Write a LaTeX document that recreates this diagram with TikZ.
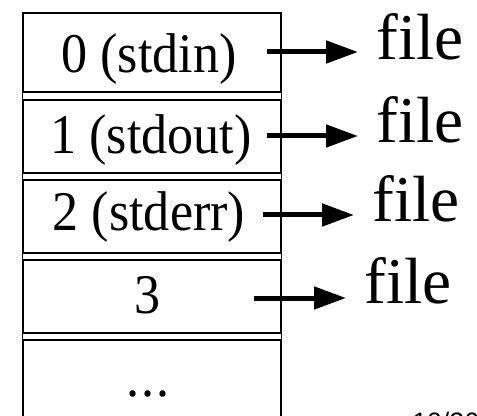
\documentclass[tikz,border=0pt]{standalone}
\usepackage{fontspec}
\setmainfont{Liberation Serif}
\newfontfamily\fdfont[FakeStretch=0.93]{Liberation Serif}
\newfontfamily\pagefont{Liberation Sans}
\usetikzlibrary{arrows.meta,positioning}

\begin{document}
\begin{tikzpicture}[
      x=0.75pt, y=-0.75pt,
      cell/.style={draw=black, line width=1.3pt, anchor=north west,
        minimum width=193pt, inner sep=0pt},
      fdlabel/.style={anchor=base, inner sep=0pt, font=\fdfont\fontsize{42}{48}\selectfont},
      target/.style={anchor=base west, inner sep=0pt, font=\fontsize{49}{56}\selectfont},
      fdarrow/.style={line width=3.75pt, shorten >=13.5pt,
        -{Triangle[length=24pt,width=16.5pt]}},
      >=stealth
      ]
  \useasboundingbox (0,0) rectangle (477,416);

  % Define nodes
  \node[cell, minimum height=59.25pt] (c0) at (22.7,12)  {};
  \node[cell, minimum height=54.75pt] (c1) at (22.7,99)  {};
  \node[cell, minimum height=54.75pt] (c2) at (22.7,179) {};
  \node[cell, minimum height=54.75pt] (c3) at (22.7,259) {};
  \node[cell, minimum height=70pt]    (c4) at (22.7,339) {};
  \draw[line width=1pt] (c0.north west) -- (c4.south west)
                        (c0.north east) -- (c4.south east);

  \node[fdlabel] (l0) at (149,73)  {0 (stdin)};
  \node[fdlabel] (l1) at (151,154) {1 (stdout)};
  \node[fdlabel] (l2) at (149,230) {2 (stderr)};
  \node[fdlabel] (l3) at (148,313) {3};
  \node[fdlabel] (l4) at (148,396) {.\kern1.8pt.\kern1.8pt.};

  \node[target] (f0) at (376,60)  {file};
  \node[target] (f1) at (376,143) {file};
  \node[target] (f2) at (372,222) {file};
  \node[target] (f3) at (364,303) {file};

  \coordinate (a0) at (267,52);
  \coordinate (a1) at (267,136);
  \coordinate (a2) at (263,215);
  \coordinate (a3) at (254,298);

  % Connect the nodes
  \draw[fdarrow] (a0) -- (f0.west |- a0);
  \draw[fdarrow] (a1) -- (f1.west |- a1);
  \draw[fdarrow] (a2) -- (f2.west |- a2);
  \draw[fdarrow] (a3) -- (f3.west |- a3);

  \node[anchor=north west, inner sep=0pt, font=\pagefont\fontsize{20}{24}\selectfont]
    (pg) at (412,412) {10/26};

\end{tikzpicture}
\end{document}
